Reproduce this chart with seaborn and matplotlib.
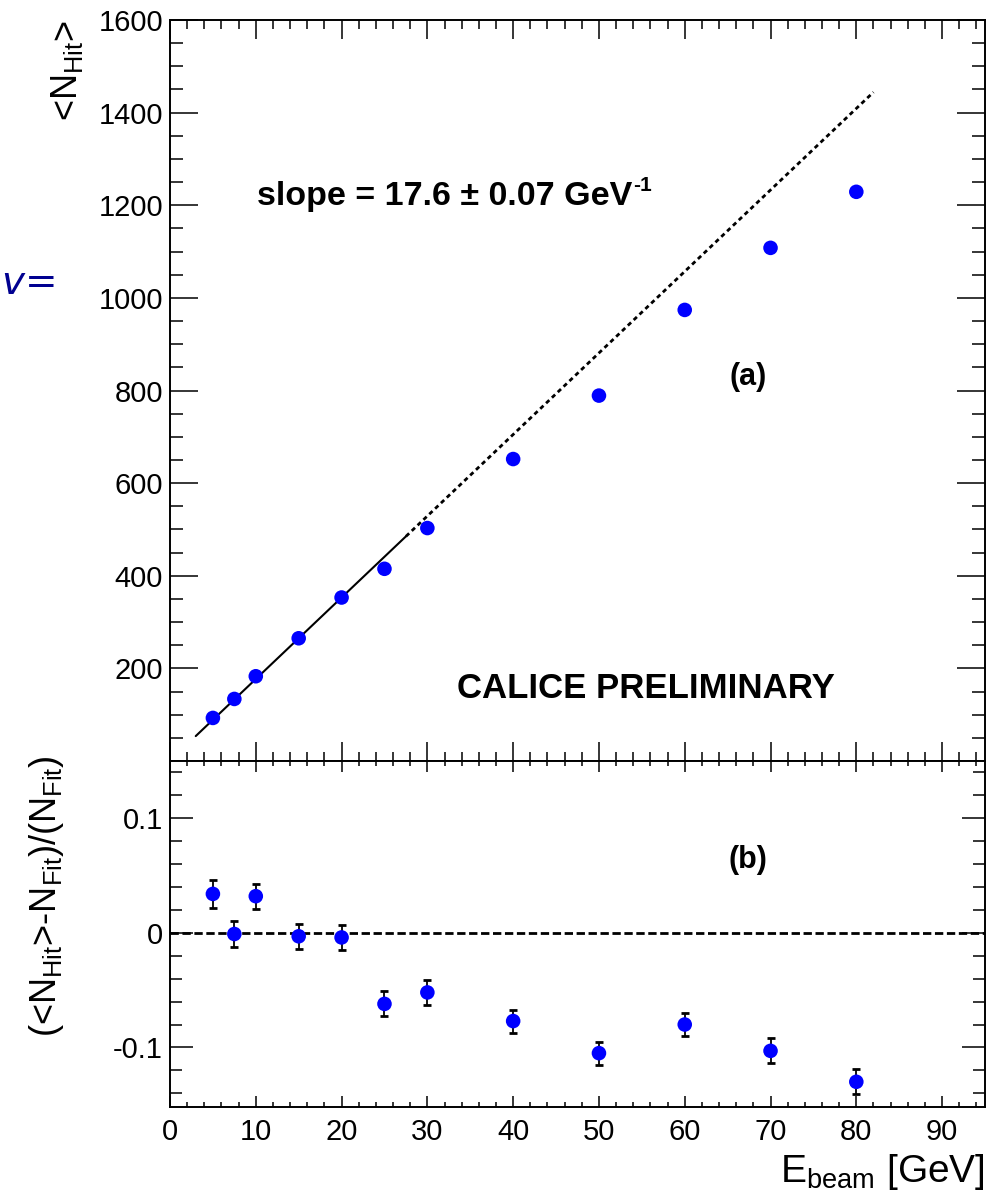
import matplotlib
matplotlib.use("Agg")
import matplotlib.pyplot as plt
from matplotlib.ticker import MultipleLocator
import numpy as np
import pandas as pd
import seaborn as sns

# Beam energies [GeV] and mean number of hits
beam_energy = [5, 7.5, 10, 15, 20, 25, 30, 40, 50, 60, 70, 80]
mean_hits = [93, 134, 183, 265, 353, 415, 503, 652, 789, 974, 1108, 1229]

# Relative deviation from the linear fit and its uncertainty
rel_residual = [0.034, -0.001, 0.032, -0.003, -0.004, -0.062,
                -0.052, -0.077, -0.105, -0.080, -0.103, -0.130]
rel_residual_err = [0.012, 0.011, 0.011, 0.011, 0.011, 0.011,
                    0.011, 0.010, 0.010, 0.010, 0.011, 0.011]

# Linear fit (low-energy range) and its extrapolation
fit_slope = 17.6
fit_slope_err = 0.07
fit_intercept = 1.0
fit_range = [3.0, 27.5]
extrap_range = [27.5, 82.0]

sns.set_theme(style="ticks")
plt.rcParams.update({
    "font.family": ["Liberation Sans", "DejaVu Sans"],
    "mathtext.default": "regular",
    "axes.unicode_minus": False,
    "text.color": "black",
    "axes.labelcolor": "black",
    "axes.edgecolor": "black",
    "xtick.color": "black",
    "ytick.color": "black",
    "axes.linewidth": 1.4,
})

df = pd.DataFrame({"E": beam_energy, "N": mean_hits,
                   "res": rel_residual, "err": rel_residual_err})
fit_df = pd.DataFrame({"E": fit_range})
fit_df["N"] = fit_slope * fit_df["E"] + fit_intercept
ext_df = pd.DataFrame({"E": extrap_range})
ext_df["N"] = fit_slope * ext_df["E"] + fit_intercept

W, H = 1001, 1191
fig = plt.figure(figsize=(W / 100, H / 100), dpi=100)
fig.patch.set_facecolor("white")


def px_rect(left, top, right, bottom):
    return [left / W, 1 - bottom / H, (right - left) / W, (bottom - top) / H]


ax_top = fig.add_axes(px_rect(170, 20, 985, 761))
ax_bot = fig.add_axes(px_rect(170, 761, 985, 1107), sharex=ax_top)

blue = "#0000ff"

# ---- upper panel: mean hits vs beam energy
sns.lineplot(data=fit_df, x="E", y="N", ax=ax_top, color="black", lw=1.5)
sns.lineplot(data=ext_df, x="E", y="N", ax=ax_top, color="black", lw=2.0,
             linestyle=(0, (1.6, 1.3)))
sns.scatterplot(data=df, x="E", y="N", ax=ax_top, color=blue, s=110,
                edgecolor="none", zorder=5)

ax_top.set_xlim(0, 95)
ax_top.set_ylim(0, 1600)
ax_top.xaxis.set_major_locator(MultipleLocator(10))
ax_top.xaxis.set_minor_locator(MultipleLocator(2))
yt = list(range(0, 1601, 200))
ax_top.set_yticks(yt, labels=[""] + [str(v) for v in yt[1:]])
ax_top.yaxis.set_minor_locator(MultipleLocator(50))
ax_top.set_xlabel("")
ax_top.set_ylabel("")

ax_top.tick_params(axis="x", which="both", direction="in", top=True,
                   bottom=True, labelbottom=False, width=1.1)
ax_top.tick_params(axis="x", which="major", length=13.5)
ax_top.tick_params(axis="x", which="minor", length=6.5)
ax_top.tick_params(axis="y", which="both", direction="in", left=True,
                   right=True, width=1.1, labelsize=21, pad=5)
ax_top.tick_params(axis="y", which="major", length=20)
ax_top.tick_params(axis="y", which="minor", length=9.5)

# ---- lower panel: relative residuals
ax_bot.axhline(0, color="black", lw=2.0, linestyle=(0, (3, 1.3)), zorder=2)
ax_bot.errorbar(df["E"], df["res"], yerr=df["err"], fmt="none",
                ecolor="black", elinewidth=1.3, capsize=3.0, capthick=2.0,
                zorder=3)
sns.scatterplot(data=df, x="E", y="res", ax=ax_bot, color=blue, s=110,
                edgecolor="none", zorder=5)

ax_bot.set_ylim(-0.152, 0.15)
ax_bot.set_yticks([-0.1, 0.0, 0.1], labels=["-0.1", "0", "0.1"])
ax_bot.yaxis.set_minor_locator(MultipleLocator(0.02))
ax_bot.set_xticks(list(range(0, 91, 10)),
                  labels=[str(v) for v in range(0, 91, 10)])
ax_bot.set_xlabel("")
ax_bot.set_ylabel("")

ax_bot.tick_params(axis="x", which="both", direction="in", top=True,
                   bottom=True, width=1.1, labelsize=21, pad=8)
ax_bot.tick_params(axis="x", which="major", length=8)
ax_bot.tick_params(axis="x", which="minor", length=3.6)
ax_bot.tick_params(axis="y", which="both", direction="in", left=True,
                   right=True, width=1.1, labelsize=21, pad=5)
ax_bot.tick_params(axis="y", which="major", length=16.5)
ax_bot.tick_params(axis="y", which="minor", length=8.6)

for ax in (ax_top, ax_bot):
    for sp in ax.spines.values():
        sp.set_visible(True)
        sp.set_linewidth(1.4)
        sp.set_color("black")

# ---- axis titles
fig.text(67 / W, 1 - 20 / H, "<N$_{Hit}$>", rotation=90, ha="center",
         va="top", fontsize=26)
fig.text(46 / W, 1 - 755 / H, "(<N$_{Hit}$>-N$_{Fit}$)/(N$_{Fit}$)",
         rotation=90, ha="center", va="top", fontsize=26)
fig.text(985 / W, 1 - 1182 / H, "E$_{beam}$ [GeV]", ha="right",
         va="baseline", fontsize=28)

# ---- annotations
slope_txt = fig.text(257 / W, 1 - 205 / H,
                     f"slope = {fit_slope} ± {fit_slope_err} GeV",
                     ha="left", va="baseline", fontsize=24.5,
                     fontweight="bold")
fig.canvas.draw()
bb = slope_txt.get_window_extent()
fig.text((bb.x1 + 1) / W, 1 - 191 / H, "-1", ha="left", va="baseline",
         fontsize=15, fontweight="bold")

fig.text(457 / W, 1 - 698 / H, "CALICE PRELIMINARY", ha="left",
         va="baseline", fontsize=25, fontweight="bold")
fig.text(748 / W, 1 - 377 / H, "(a)", ha="center", va="center",
         fontsize=22, fontweight="bold")
fig.text(748 / W, 1 - 860 / H, "(b)", ha="center", va="center",
         fontsize=22, fontweight="bold")

# fragment at the left edge
fig.text(1 / W, 1 - 294 / H, r"$\mathit{v}$=", ha="left", va="baseline",
         fontsize=28, color="#000090", family="DejaVu Serif")

fig.savefig("out.png", dpi=100, facecolor="white")
